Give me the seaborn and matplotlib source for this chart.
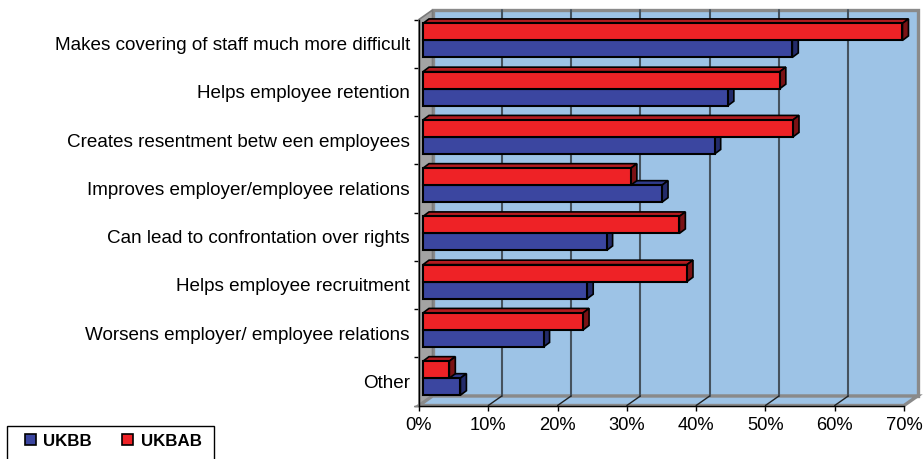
import numpy as np
import pandas as pd
import matplotlib
matplotlib.use("Agg")
import matplotlib.pyplot as plt
from matplotlib.patches import Polygon, Rectangle, Patch
from matplotlib.lines import Line2D
from matplotlib.transforms import ScaledTranslation
import seaborn as sns

# ---- data -------------------------------------------------------------
categories = [
    "Makes covering of staff much more difficult",
    "Helps employee retention",
    "Creates resentment betw een employees",
    "Improves employer/employee relations",
    "Can lead to confrontation over rights",
    "Helps employee recruitment",
    "Worsens employer/ employee relations",
    "Other",
]
ukbb = [53.3, 44.0, 42.1, 34.5, 26.5, 23.7, 17.4, 5.4]
ukbab = [69.2, 51.5, 53.4, 30.0, 37.0, 38.1, 23.1, 3.8]
series = ["UKBB", "UKBAB"]
x_ticks = [0, 10, 20, 30, 40, 50, 60, 70]
x_tick_labels = ["0%", "10%", "20%", "30%", "40%", "50%", "60%", "70%"]

# ---- style ------------------------------------------------------------
sns.set_theme(style="white")
plt.rcParams["font.family"] = ["Liberation Sans", "DejaVu Sans"]
plt.rcParams["text.color"] = "black"

front = {"UKBB": "#3B46A0", "UKBAB": "#EE2226"}
top_c = {"UKBB": "#303B8A", "UKBAB": "#B31B1F"}
side_c = {"UKBB": "#232B6A", "UKBAB": "#7A1215"}
wall_blue = "#9DC3E6"
wall_edge = "#8A8A8A"
side_gray = "#A3A3A3"
grid_c = "#45525E"

W, H, DPI = 924, 459, 100
fig = plt.figure(figsize=(W / DPI, H / DPI), dpi=DPI)
fig.patch.set_facecolor("white")

# front plane of the 3-D box (pixels from top-left)
FX0, FX1, FY0, FY1 = 419, 904, 19.5, 405.5
ax = fig.add_axes([FX0 / W, 1 - FY1 / H, (FX1 - FX0) / W, (FY1 - FY0) / H])
ax.patch.set_visible(False)

df = pd.DataFrame({
    "category": categories * 2,
    "value": ukbb + ukbab,
    "series": ["UKBB"] * len(categories) + ["UKBAB"] * len(categories),
})

sns.barplot(
    data=df, y="category", x="value", hue="series",
    order=categories, hue_order=["UKBAB", "UKBB"],
    palette=front, saturation=1, width=0.705, orient="h",
    errorbar=None, legend=False, edgecolor="black", linewidth=1.5, ax=ax,
)

XMAX = 70
ax.set_xlim(0, XMAX)
ax.set_ylim(len(categories) - 0.5, -0.5)
ax.set_xlabel("")
ax.set_ylabel("")

# pixel -> data conversions for depth offsets
sx = (FX1 - FX0) / XMAX
sy = (FY1 - FY0) / len(categories)


def depth(px_right, px_up):
    return px_right / sx, -px_up / sy


WDX, WDY = depth(13.5, 9.5)      # full depth of the box
BDX, BDY = depth(6.0, 4.5)       # depth of each bar
shift = ScaledTranslation(4 / DPI, 3.2 / DPI, fig.dpi_scale_trans)
bar_tr = ax.transData + shift

y_top, y_bot = -0.5, len(categories) - 0.5

# ---- walls and floor --------------------------------------------------
ax.add_patch(Rectangle((WDX, y_top + WDY), XMAX, y_bot - y_top,
                       facecolor=wall_blue, edgecolor=wall_edge, lw=2.4,
                       zorder=0.5, clip_on=False))
ax.add_patch(Polygon([(0, y_top), (WDX, y_top + WDY), (WDX, y_bot + WDY), (0, y_bot)],
                     closed=True, facecolor=side_gray, edgecolor="#7A7A7A", lw=1.2,
                     zorder=0.6, clip_on=False))
ax.add_patch(Polygon([(0, y_bot), (XMAX, y_bot), (XMAX + WDX, y_bot + WDY), (WDX, y_bot + WDY)],
                     closed=True, facecolor=wall_blue, edgecolor=wall_edge, lw=2.4,
                     zorder=0.6, clip_on=False))
for t in x_ticks[1:-1]:
    ax.add_line(Line2D([t + WDX, t + WDX], [y_top + WDY, y_bot + WDY],
                       color=grid_c, lw=1.5, zorder=0.7, clip_on=False))
    ax.add_line(Line2D([t, t + WDX], [y_bot, y_bot + WDY],
                       color="#222222", lw=1.0, zorder=0.7, clip_on=False))

# ---- 3-D faces of the bars --------------------------------------------
name_of = {matplotlib.colors.to_hex(front[s]): s for s in series}
for p in list(ax.patches):
    if not isinstance(p, Rectangle) or p.get_zorder() < 1:
        continue
    fc = matplotlib.colors.to_hex(p.get_facecolor())
    if fc not in name_of:
        continue
    s = name_of[fc]
    base_z = 3.5 if s == "UKBAB" else 3.0
    x0, w = p.get_x(), p.get_width()
    yt = min(p.get_y(), p.get_y() + p.get_height())
    yb = max(p.get_y(), p.get_y() + p.get_height())
    x1 = x0 + w
    p.set_transform(bar_tr)
    p.set_zorder(base_z)
    p.set_clip_on(False)
    ax.add_patch(Polygon([(x0, yt), (x1, yt), (x1 + BDX, yt + BDY), (x0 + BDX, yt + BDY)],
                         closed=True, facecolor=top_c[s], edgecolor="black", lw=1.2,
                         transform=bar_tr, zorder=base_z - 0.1, clip_on=False))
    ax.add_patch(Polygon([(x1, yt), (x1, yb), (x1 + BDX, yb + BDY), (x1 + BDX, yt + BDY)],
                         closed=True, facecolor=side_c[s], edgecolor="black", lw=1.2,
                         transform=bar_tr, zorder=base_z - 0.1, clip_on=False))

# ---- axes, ticks, labels ----------------------------------------------
for sp in ("top", "right"):
    ax.spines[sp].set_visible(False)
for sp in ("bottom", "left"):
    ax.spines[sp].set_color("black")
    ax.spines[sp].set_linewidth(1.0)
    ax.spines[sp].set_zorder(5)

ax.set_xticks(x_ticks, labels=x_tick_labels)
ax.tick_params(axis="x", which="major", bottom=True, direction="out", length=3.6,
               width=1.0, color="black", pad=5.0, labelsize=13.2, labelcolor="black")
ax.set_yticks(np.arange(-0.5, len(categories), 1.0), minor=True)
ax.tick_params(axis="y", which="major", left=False, length=0, pad=6.5,
               labelsize=13.6, labelcolor="black")
ax.tick_params(axis="y", which="minor", left=True, direction="out", length=3.6,
               width=1.0, color="black")

# ---- legend -----------------------------------------------------------
handles = [Patch(facecolor=front[s], edgecolor="black", lw=1.2) for s in series]
fig.legend(handles=handles, labels=series, loc="center left",
           bbox_to_anchor=(25 / W, 1 - 441 / H), bbox_transform=fig.transFigure,
           frameon=False, ncol=2, handlelength=0.65, handleheight=0.65,
           handletextpad=0.42, columnspacing=1.8, borderpad=0, borderaxespad=0,
           labelcolor="black", prop={"weight": "bold", "size": 12.2})
fig.add_artist(Rectangle((7.3 / W, -0.05), (214.3 - 7.3) / W, (1 - 426 / H) + 0.05,
                         transform=fig.transFigure, fill=False,
                         edgecolor="black", lw=1.0))

fig.savefig("out.png", dpi=DPI)
